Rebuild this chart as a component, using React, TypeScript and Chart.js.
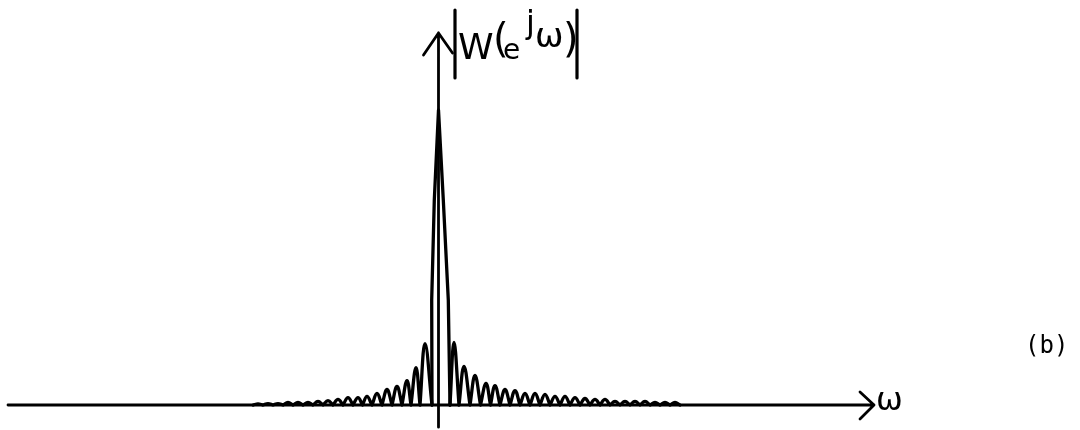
import React, { useEffect, useRef } from "react";
import { Chart, registerables } from "chart.js";

Chart.register(...registerables);

// ω in units of one sidelobe width; |W| normalised to the main-lobe peak
const mainLobeW = [-0.75, -0.78, -0.52, -0.1, 0.38, 0.88, 1.05];
const mainLobeMag = [0, 0.356, 0.695, 1, 0.695, 0.356, 0];

const leftZerosW = [-0.75, -1.95, -2.85, -3.75, -4.75, -5.75, -6.75, -7.7, -8.65, -9.65, -10.65, -11.65, -12.65, -13.65, -14.65, -15.65, -16.65, -17.65, -18.65];
const leftPeaksW = [-1.45, -2.35, -3.25, -4.25, -5.25, -6.25, -7.25, -8.15, -9.15, -10.15, -11.15, -12.15, -13.15, -14.15, -15.15, -16.15, -17.15, -18.15];
const leftPeaksMag = [0.208, 0.127, 0.083, 0.063, 0.053, 0.039, 0.029, 0.025, 0.025, 0.019, 0.015, 0.012, 0.0085, 0.0085, 0.0085, 0.005, 0.005, 0.0035];

const rightZerosW = [1.05, 1.95, 3.05, 4.1, 5.1, 6.05, 7.05, 8.05, 9.05, 10.05, 11.05, 12.05, 13.05, 14.05, 15.05, 16.05, 17.05, 18.05, 19.05, 20.05, 21.05, 22.05, 23.05, 24.05];
const rightPeaksW = [1.45, 2.45, 3.55, 4.65, 5.55, 6.55, 7.55, 8.55, 9.55, 10.55, 11.55, 12.55, 13.55, 14.55, 15.55, 16.55, 17.55, 18.55, 19.55, 20.55, 21.55, 22.55, 23.55];
const rightPeaksMag = [0.212, 0.131, 0.1, 0.073, 0.066, 0.053, 0.049, 0.039, 0.039, 0.036, 0.029, 0.029, 0.025, 0.022, 0.019, 0.019, 0.012, 0.012, 0.012, 0.012, 0.0085, 0.0085, 0.0085];

// axis extents (data units)
const X_MIN = -43.95;
const X_MAX = 64.05;
const Y_MIN = -0.0847;
const Y_MAX = 1.3729;
const H_AXIS_FROM = -43.15;
const H_AXIS_TO = 43.45;
const V_AXIS_AT = -0.1;
const V_AXIS_FROM = -0.075;
const V_AXIS_TO = 1.261;

function buildLobes(zeros: number[], peaks: number[], mags: number[]) {
  const pts: { x: number; y: number }[] = [];
  for (let i = 0; i < peaks.length; i++) {
    pts.push({ x: zeros[i], y: 0 });
    if (i > 0) pts.push({ x: zeros[i], y: 0 });
    pts.push({ x: peaks[i], y: mags[i] });
  }
  pts.push({ x: zeros[peaks.length], y: 0 });
  return pts;
}

const handPlugin = {
  id: "handAxes",
  beforeDatasetsDraw(chart: any) {
    const { ctx, scales } = chart;
    const xs = scales.x;
    const ys = scales.y;
    const y0 = ys.getPixelForValue(0);
    const xa = xs.getPixelForValue(V_AXIS_AT);
    const xFrom = xs.getPixelForValue(H_AXIS_FROM);
    const xTo = xs.getPixelForValue(H_AXIS_TO);
    const yFrom = ys.getPixelForValue(V_AXIS_FROM);
    const yTo = ys.getPixelForValue(V_AXIS_TO);
    ctx.save();
    ctx.strokeStyle = "#000";
    ctx.lineWidth = 2.8;
    ctx.lineCap = "round";
    ctx.lineJoin = "round";
    // horizontal axis + arrow
    ctx.beginPath();
    ctx.moveTo(xFrom, y0);
    ctx.lineTo(xTo, y0);
    ctx.moveTo(xTo - 14, y0 - 13);
    ctx.lineTo(xTo, y0);
    ctx.lineTo(xTo - 14, y0 + 14);
    ctx.stroke();
    // vertical axis + arrow
    ctx.beginPath();
    ctx.moveTo(xa, yFrom);
    ctx.lineTo(xa, yTo);
    ctx.moveTo(xa - 15, yTo + 22);
    ctx.lineTo(xa, yTo);
    ctx.lineTo(xa + 14, yTo + 20);
    ctx.stroke();
    ctx.restore();
  },
  afterDraw(chart: any) {
    const { ctx, scales } = chart;
    const xs = scales.x;
    const ys = scales.y;
    const y0 = ys.getPixelForValue(0);
    const xTo = xs.getPixelForValue(H_AXIS_TO);
    ctx.save();
    ctx.fillStyle = "#000";
    ctx.strokeStyle = "#000";
    ctx.textBaseline = "alphabetic";
    ctx.textAlign = "left";
    // ω at the end of the horizontal axis
    ctx.font = "32px 'DejaVu Sans'";
    ctx.fillText("ω", xTo + 2, y0 + 5);
    // |W(e^{jω})|
    ctx.lineWidth = 3.2;
    ctx.lineCap = "round";
    ctx.beginPath();
    ctx.moveTo(455, 10);
    ctx.lineTo(455, 78);
    ctx.moveTo(577, 10);
    ctx.lineTo(577, 78);
    ctx.stroke();
    ctx.font = "36px 'DejaVu Sans'";
    ctx.fillText("W", 458, 59);
    ctx.font = "40px 'DejaVu Sans'";
    ctx.fillText("(", 493, 52);
    ctx.font = "28px 'DejaVu Sans'";
    ctx.fillText("e", 503, 59);
    ctx.font = "32px 'DejaVu Sans'";
    ctx.fillText("j", 526, 33);
    ctx.font = "34px 'DejaVu Sans'";
    ctx.fillText("ω", 535, 47);
    ctx.font = "40px 'DejaVu Sans'";
    ctx.fillText(")", 563, 52);
    // (b)
    ctx.font = "24px 'DejaVu Sans Mono'";
    ctx.fillText("(b)", 1025, 353);
    ctx.restore();
  },
};

export default function App() {
  const canvasRef = useRef<HTMLCanvasElement | null>(null);

  useEffect(() => {
    document.body.style.margin = "0";
    const canvas = canvasRef.current;
    if (!canvas) return;
    const common = {
      borderColor: "#000",
      borderWidth: 3.3,
      pointRadius: 0,
      fill: false,
      borderCapStyle: "round" as const,
      borderJoinStyle: "round" as const,
    };
    const chart = new Chart(canvas, {
      type: "line",
      data: {
        datasets: [
          {
            ...common,
            label: "left sidelobes",
            data: buildLobes(leftZerosW, leftPeaksW, leftPeaksMag),
            tension: 0.4,
          },
          {
            ...common,
            label: "main lobe",
            data: mainLobeW.map((w, i) => ({ x: w, y: mainLobeMag[i] })),
            tension: 0,
          },
          {
            ...common,
            label: "right sidelobes",
            data: buildLobes(rightZerosW, rightPeaksW, rightPeaksMag),
            tension: 0.4,
          },
        ],
      },
      options: {
        animation: false,
        responsive: false,
        maintainAspectRatio: false,
        layout: { padding: 0 },
        plugins: {
          legend: { display: false },
          title: { display: false },
          tooltip: { enabled: false },
        },
        scales: {
          x: { type: "linear", min: X_MIN, max: X_MAX, display: false },
          y: { type: "linear", min: Y_MIN, max: Y_MAX, display: false },
        },
      },
      plugins: [handPlugin],
    });
    return () => chart.destroy();
  }, []);

  return (
    <div style={{ position: "absolute", left: 0, top: 0, width: 1080, height: 430, background: "#fff" }}>
      <canvas ref={canvasRef} width={1080} height={430} style={{ display: "block" }} />
    </div>
  );
}
